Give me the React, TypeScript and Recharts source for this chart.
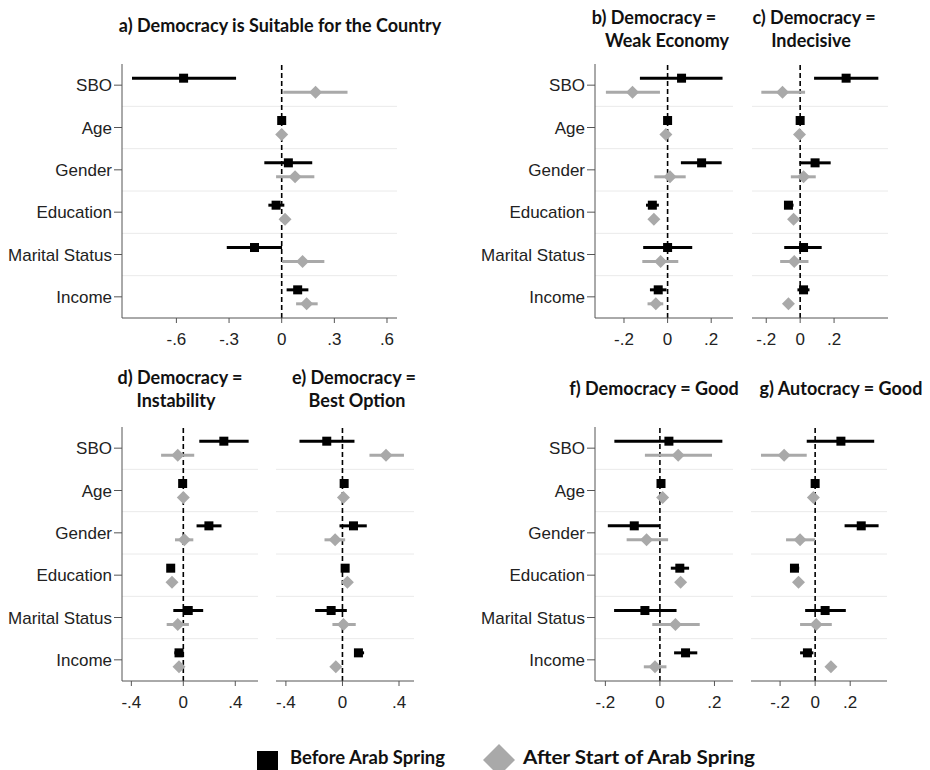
import React from 'react';
import { ScatterChart, Scatter, XAxis, YAxis, ErrorBar, ReferenceLine } from 'recharts';

const FONT = '"Liberation Sans", Arial, sans-serif';
const TITLE_FONT = 'Lato, "Noto Sans", sans-serif';
const GREY = '#a9a9a9';

// Row (category) labels
const ROWS = ['SBO', 'Age', 'Gender', 'Education', 'Marital Status', 'Income'];

// [estimate, lower CI, upper CI] per row
type Est = [number, number, number];

const aBefore: Est[] = [[-0.559, -0.853, -0.26], [0, -0.004, 0.004], [0.038, -0.099, 0.174], [-0.032, -0.076, 0.015], [-0.155, -0.313, 0.002], [0.091, 0.028, 0.152]];
const aAfter: Est[] = [[0.193, 0.009, 0.375], [0, -0.004, 0.004], [0.076, -0.032, 0.186], [0.019, 0.009, 0.029], [0.119, 0.002, 0.243], [0.142, 0.082, 0.205]];

const bBefore: Est[] = [[0.064, -0.127, 0.252], [0, -0.005, 0.005], [0.156, 0.061, 0.248], [-0.07, -0.099, -0.04], [0, -0.112, 0.113], [-0.043, -0.081, -0.005]];
const bAfter: Est[] = [[-0.161, -0.283, -0.035], [-0.008, -0.012, -0.004], [0.011, -0.061, 0.083], [-0.063, -0.075, -0.051], [-0.032, -0.116, 0.049], [-0.054, -0.092, -0.02]];

const cBefore: Est[] = [[0.271, 0.082, 0.461], [0, -0.005, 0.005], [0.088, -0.004, 0.18], [-0.069, -0.094, -0.039], [0.02, -0.094, 0.127], [0.02, -0.016, 0.055]];
const cAfter: Est[] = [[-0.104, -0.229, 0.029], [-0.004, -0.008, 0], [0.02, -0.055, 0.092], [-0.039, -0.05, -0.028], [-0.035, -0.118, 0.049], [-0.069, -0.08, -0.058]];

const dBefore: Est[] = [[0.312, 0.123, 0.503], [-0.005, -0.01, 0], [0.197, 0.102, 0.294], [-0.097, -0.11, -0.084], [0.038, -0.077, 0.153], [-0.033, -0.069, 0]];
const dAfter: Est[] = [[-0.043, -0.171, 0.084], [0, -0.005, 0.005], [0.008, -0.064, 0.077], [-0.087, -0.1, -0.074], [-0.043, -0.128, 0.043], [-0.033, -0.045, -0.021]];

const eBefore: Est[] = [[-0.111, -0.304, 0.085], [0.012, 0.005, 0.019], [0.078, -0.021, 0.172], [0.019, 0.005, 0.033], [-0.08, -0.193, 0.031], [0.113, 0.082, 0.153]];
const eAfter: Est[] = [[0.308, 0.191, 0.435], [0.007, 0, 0.014], [-0.052, -0.127, 0.019], [0.035, 0.022, 0.048], [0.007, -0.071, 0.094], [-0.047, -0.06, -0.034]];

const fBefore: Est[] = [[0.033, -0.167, 0.229], [0.004, 0, 0.008], [-0.094, -0.191, 0], [0.073, 0.04, 0.107], [-0.055, -0.168, 0.061], [0.094, 0.052, 0.137]];
const fAfter: Est[] = [[0.067, -0.055, 0.191], [0.01, 0.005, 0.015], [-0.049, -0.122, 0.03], [0.076, 0.066, 0.086], [0.057, -0.028, 0.146], [-0.018, -0.059, 0.024]];

const gBefore: Est[] = [[0.147, -0.048, 0.337], [0, -0.005, 0.005], [0.263, 0.168, 0.362], [-0.118, -0.143, -0.091], [0.057, -0.057, 0.175], [-0.044, -0.086, -0.01]];
const gAfter: Est[] = [[-0.177, -0.309, -0.048], [-0.01, -0.015, -0.005], [-0.086, -0.166, 0], [-0.095, -0.105, -0.085], [0.006, -0.086, 0.095], [0.09, 0.08, 0.1]];

// Tick values
const aTicks = [-0.6, -0.3, 0, 0.3, 0.6];
const bcTicks = [-0.2, 0, 0.2];
const deTicks = [-0.4, 0, 0.4];
const fgTicks = [-0.2, 0, 0.2];

const LEGEND = ['Before Arab Spring', 'After Start of Arab Spring'];

const PLOT_H = 254;
const OFFSET = 0.165;

const fmt = (v: number) => {
  if (Math.abs(v) < 1e-9) return '0';
  const s = String(Math.abs(v)).replace(/^0/, '');
  return (v < 0 ? '-' : '') + s;
};

const toData = (vals: Est[], off: number) =>
  vals.map((v, i) => ({ x: v[0], y: i + off, err: [v[0] - v[1], v[2] - v[0]] }));

const Square = (props: any) => {
  const { cx, cy } = props;
  if (cx == null || cy == null) return null;
  return <rect x={cx - 4.5} y={cy - 4.5} width={9} height={9} fill="#000" />;
};

const Diamond = (props: any) => {
  const { cx, cy } = props;
  if (cx == null || cy == null) return null;
  const r = 6.5;
  return <polygon points={`${cx},${cy - r} ${cx + r},${cy} ${cx},${cy + r} ${cx - r},${cy}`} fill={GREY} />;
};

type PanelCfg = {
  key: string;
  showY: boolean;
  chartLeft: number;
  plotLeft: number;
  plotRight: number;
  plotTop: number;
  domain: [number, number];
  ticks: number[];
  before: Est[];
  after: Est[];
};

const PANELS: PanelCfg[] = [
  { key: 'a', showY: true, chartLeft: 0, plotLeft: 122, plotRight: 397, plotTop: 64, domain: [-0.91, 0.657], ticks: aTicks, before: aBefore, after: aAfter },
  { key: 'b', showY: true, chartLeft: 470, plotLeft: 595, plotRight: 733, plotTop: 64, domain: [-0.333, 0.3], ticks: bcTicks, before: bBefore, after: bAfter },
  { key: 'c', showY: false, chartLeft: 752, plotLeft: 752, plotRight: 888, plotTop: 64, domain: [-0.284, 0.518], ticks: bcTicks, before: cBefore, after: cAfter },
  { key: 'd', showY: true, chartLeft: 0, plotLeft: 122, plotRight: 258, plotTop: 427, domain: [-0.472, 0.575], ticks: deTicks, before: dBefore, after: dAfter },
  { key: 'e', showY: false, chartLeft: 276, plotLeft: 276, plotRight: 414, plotTop: 427, domain: [-0.47, 0.506], ticks: deTicks, before: eBefore, after: eAfter },
  { key: 'f', showY: true, chartLeft: 470, plotLeft: 595, plotRight: 733, plotTop: 427, domain: [-0.238, 0.268], ticks: fgTicks, before: fBefore, after: fAfter },
  { key: 'g', showY: false, chartLeft: 751, plotLeft: 751, plotRight: 887, plotTop: 427, domain: [-0.366, 0.41], ticks: fgTicks, before: gBefore, after: gAfter },
];

const TITLES: { text: string; x: number; y: number }[] = [
  { text: 'a) Democracy is Suitable for the Country', x: 280, y: 25 },
  { text: 'b) Democracy =', x: 654, y: 17 },
  { text: 'Weak Economy', x: 667, y: 40 },
  { text: 'c) Democracy =', x: 814, y: 17 },
  { text: 'Indecisive', x: 811, y: 40 },
  { text: 'd) Democracy =', x: 180, y: 377 },
  { text: 'Instability', x: 176, y: 400 },
  { text: 'e) Democracy =', x: 354, y: 377 },
  { text: 'Best Option', x: 357, y: 400 },
  { text: 'f) Democracy = Good', x: 654, y: 388 },
  { text: 'g) Autocracy = Good', x: 841, y: 388 },
];

const Panel = ({ p }: { p: PanelCfg }) => {
  const chartLeft = p.showY ? p.chartLeft : p.plotLeft;
  const yw = p.plotLeft - chartLeft;
  const topM = 10;
  const xh = 40;
  const width = p.plotRight - chartLeft + 6;
  const height = topM + PLOT_H + xh;
  return (
    <div style={{ position: 'absolute', left: chartLeft, top: p.plotTop - topM }}>
      <ScatterChart width={width} height={height} margin={{ top: topM, right: 6, bottom: 0, left: 0 }}>
        {[0.5, 1.5, 2.5, 3.5, 4.5].map((v) => (
          <ReferenceLine key={v} y={v} stroke="#eaeaea" strokeWidth={1} />
        ))}
        <XAxis
          type="number"
          dataKey="x"
          domain={p.domain}
          allowDataOverflow
          ticks={p.ticks}
          interval={0}
          tickFormatter={fmt}
          height={xh}
          tickSize={5}
          tickMargin={10}
          stroke="#555"
          tick={{ fill: '#222', fontSize: 17, fontFamily: FONT }}
        />
        <YAxis
          type="number"
          dataKey="y"
          domain={[-0.5, 5.5]}
          reversed
          allowDataOverflow
          ticks={[0, 1, 2, 3, 4, 5]}
          interval={0}
          tickFormatter={(v: number) => ROWS[v]}
          width={yw}
          hide={!p.showY}
          tickSize={8}
          tickMargin={2}
          stroke="#555"
          tick={{ fill: '#222', fontSize: 17, fontFamily: FONT }}
        />
        <ReferenceLine x={0} stroke="#000" strokeWidth={1.6} strokeDasharray="5 3" />
        <Scatter data={toData(p.after, OFFSET)} shape={Diamond} isAnimationActive={false}>
          <ErrorBar dataKey="err" direction="x" width={0} stroke={GREY} strokeWidth={3} isAnimationActive={false} />
        </Scatter>
        <Scatter data={toData(p.before, -OFFSET)} shape={Square} isAnimationActive={false}>
          <ErrorBar dataKey="err" direction="x" width={0} stroke="#000" strokeWidth={3} isAnimationActive={false} />
        </Scatter>
      </ScatterChart>
    </div>
  );
};

export default function App() {
  return (
    <div style={{ position: 'absolute', left: 0, top: 0, width: 930, height: 770, background: '#fff', overflow: 'hidden' }}>
      {PANELS.map((p) => (
        <Panel key={p.key} p={p} />
      ))}
      <svg width={930} height={770} style={{ position: 'absolute', left: 0, top: 0, pointerEvents: 'none' }}>
        {TITLES.map((t, i) => (
          <text key={i} x={t.x} y={t.y} textAnchor="middle" dominantBaseline="central" fontFamily={TITLE_FONT} fontWeight={700} fontSize={18} fill="#111">
            {t.text}
          </text>
        ))}
        <rect x={257} y={751} width={21} height={19} fill="#000" />
        <text x={290} y={764} fontFamily={TITLE_FONT} fontWeight={700} fontSize={19} fill="#111" textLength={155} lengthAdjust="spacingAndGlyphs">{LEGEND[0]}</text>
        <polygon points="499,744 515,760 499,776 483,760" fill={GREY} />
        <text x={523} y={764} fontFamily={TITLE_FONT} fontWeight={700} fontSize={19} fill="#111" textLength={232} lengthAdjust="spacingAndGlyphs">{LEGEND[1]}</text>
      </svg>
    </div>
  );
}
